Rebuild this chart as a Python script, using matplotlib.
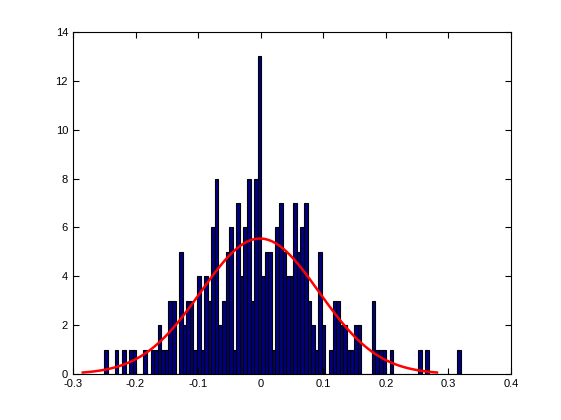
import matplotlib
matplotlib.use('Agg')
import matplotlib.pyplot as plt
import numpy as np

# histogram: 100 bins between x_min and x_max, counts
x_min, x_max = -0.25, 0.32
counts = [1, 0, 0, 1, 0, 1, 0, 1, 1, 0, 0, 1, 0, 1, 1, 2, 1, 1, 3, 3,
          0, 5, 2, 3, 3, 1, 4, 1, 4, 3, 6, 8, 2, 3, 5, 6, 1, 7, 4, 6,
          8, 3, 8, 13, 4, 5, 5, 1, 6, 7, 5, 4, 4, 7, 5, 6, 7, 3, 2, 1,
          5, 2, 0, 1, 3, 3, 2, 2, 1, 1, 2, 2, 0, 0, 0, 3, 1, 1, 1, 0,
          1, 0, 0, 0, 0, 0, 0, 0, 1, 0, 1, 0, 0, 0, 0, 0, 0, 0, 0, 1]

counts = np.array(counts, dtype=float)
edges = np.linspace(x_min, x_max, len(counts) + 1)
width = edges[1] - edges[0]
centers = (edges[:-1] + edges[1:]) / 2

# normal fit like histfit
n = counts.sum()
mu = (counts * centers).sum() / n
sigma = np.sqrt((counts * (centers - mu) ** 2).sum() / (n - 1))
xf = np.linspace(mu - 3 * sigma, mu + 3 * sigma, 100)
yf = n * width * np.exp(-(xf - mu) ** 2 / (2 * sigma ** 2)) / (sigma * np.sqrt(2 * np.pi))

plt.rcParams['font.family'] = ['Liberation Sans', 'DejaVu Sans']
fig = plt.figure(figsize=(5.61, 4.2), dpi=100)
ax = fig.add_axes([0.130, 0.1095, 0.781, 0.8145])
ax.bar(centers, counts, width=width, color=(0, 0, 0.5), edgecolor='black', linewidth=0.8)
ax.plot(xf, yf, color='red', linewidth=1.8)
ax.set_xlim(-0.3, 0.4)
ax.set_ylim(0, 14)
ax.set_xticks(np.arange(-0.3, 0.41, 0.1))
ax.set_xticklabels(['-0.3', '-0.2', '-0.1', '0', '0.1', '0.2', '0.3', '0.4'])
ax.set_yticks(range(0, 15, 2))
ax.tick_params(direction='in', top=True, right=True, labelsize=8, length=4)
fig.savefig('out.png', dpi=100)
